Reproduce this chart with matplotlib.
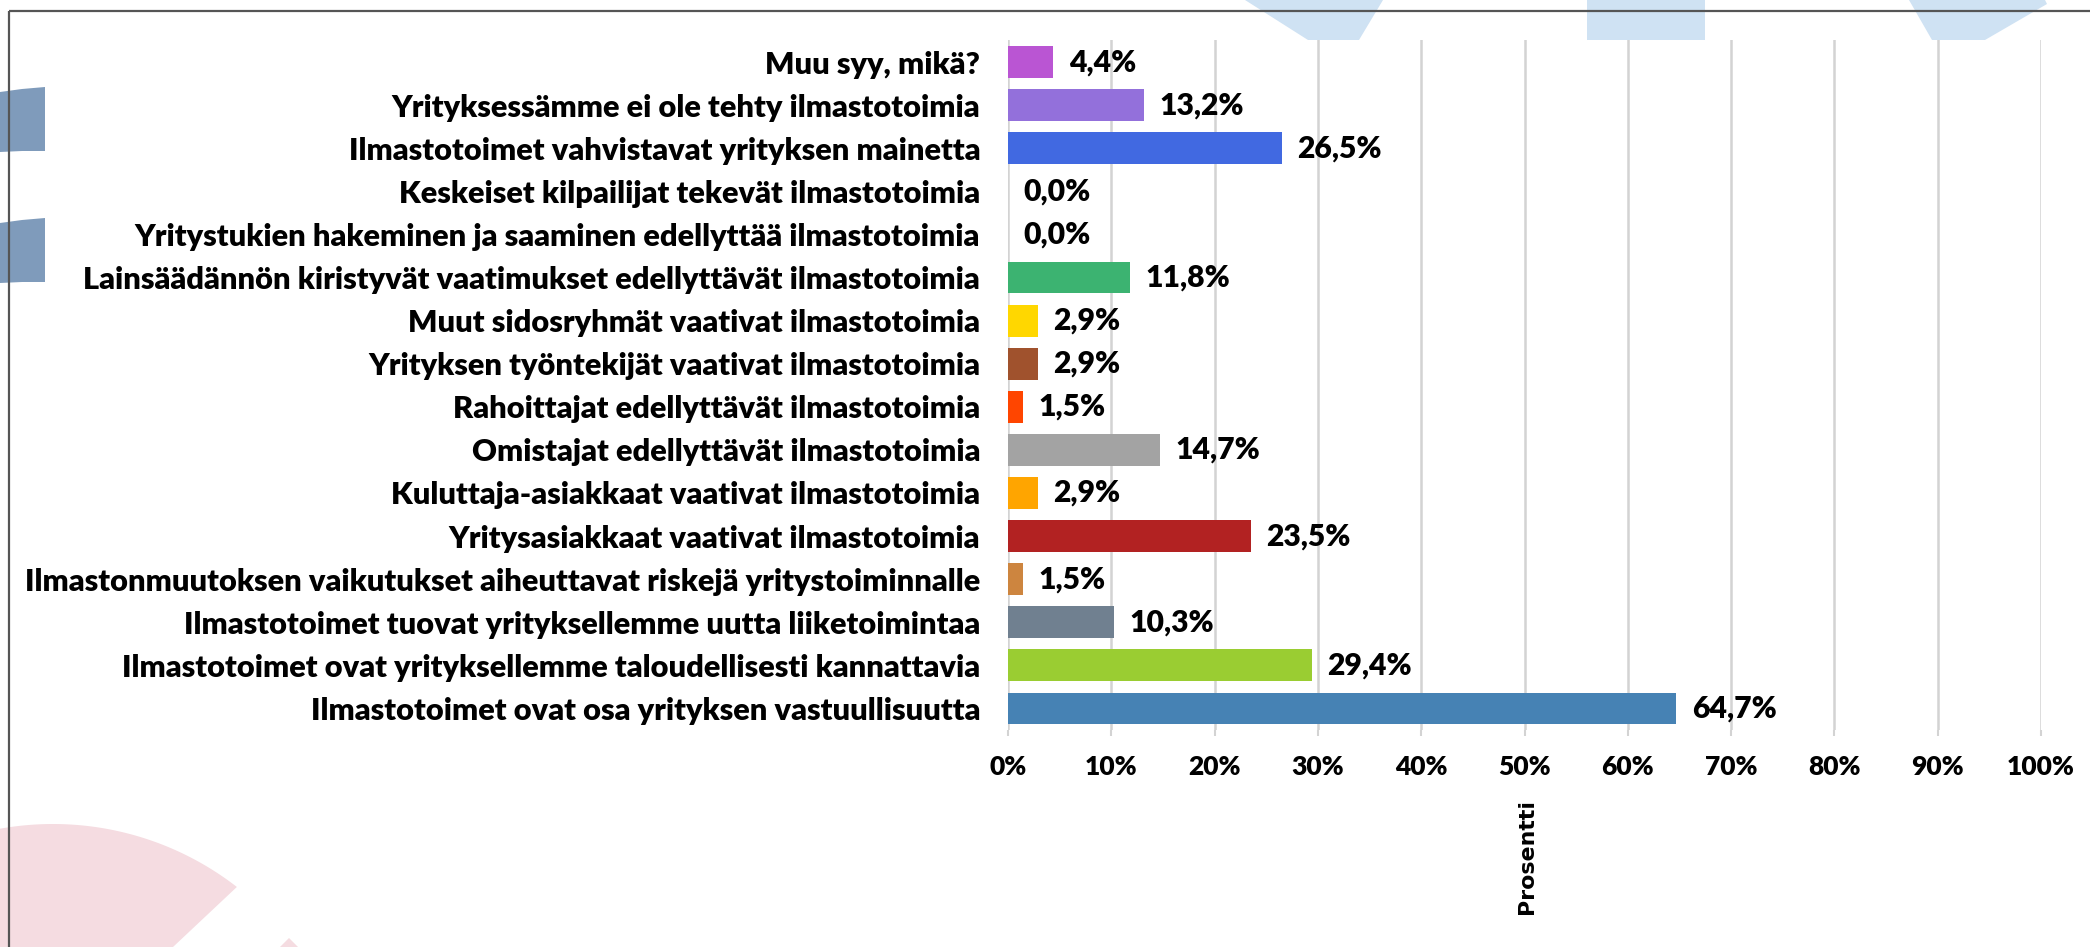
import matplotlib
matplotlib.use("Agg")
import matplotlib.pyplot as plt
from matplotlib.patches import Polygon
from matplotlib.font_manager import FontProperties
import numpy as np

# ---------------- data ----------------
categories = [
    "Muu syy, mikä?",
    "Yrityksessämme ei ole tehty ilmastotoimia",
    "Ilmastotoimet vahvistavat yrityksen mainetta",
    "Keskeiset kilpailijat tekevät ilmastotoimia",
    "Yritystukien hakeminen ja saaminen edellyttää ilmastotoimia",
    "Lainsäädännön kiristyvät vaatimukset edellyttävät ilmastotoimia",
    "Muut sidosryhmät vaativat ilmastotoimia",
    "Yrityksen työntekijät vaativat ilmastotoimia",
    "Rahoittajat edellyttävät ilmastotoimia",
    "Omistajat edellyttävät ilmastotoimia",
    "Kuluttaja-asiakkaat vaativat ilmastotoimia",
    "Yritysasiakkaat vaativat ilmastotoimia",
    "Ilmastonmuutoksen vaikutukset aiheuttavat riskejä yritystoiminnalle",
    "Ilmastotoimet tuovat yrityksellemme uutta liiketoimintaa",
    "Ilmastotoimet ovat yrityksellemme taloudellisesti kannattavia",
    "Ilmastotoimet ovat osa yrityksen vastuullisuutta",
]
values = [4.4, 13.2, 26.5, 0.0, 0.0, 11.8, 2.9, 2.9, 1.5, 14.7, 2.9, 23.5, 1.5, 10.3, 29.4, 64.7]
bar_colors = ["#BA55D3", "#9370DB", "#4169E1", "#4169E1", "#4169E1", "#3CB371",
              "#FFD700", "#A0522D", "#FF4500", "#A3A3A3", "#FFA500", "#B22222",
              "#CD853F", "#708090", "#9ACD32", "#4682B4"]
tick_values = [0, 10, 20, 30, 40, 50, 60, 70, 80, 90, 100]
tick_labels = [f"{t}%" for t in tick_values]
axis_title = "Prosentti"

# ---------------- figure ----------------
W, H = 2090, 947
fig = plt.figure(figsize=(W / 100, H / 100), dpi=100)
fig.patch.set_facecolor("white")
FONT = ["Lato", "DejaVu Sans"]
WEIGHT = "heavy"

# decorative background (pixel coordinates, y downwards)
bg = fig.add_axes([0, 0, 1, 1], zorder=0)
bg.set_xlim(0, W)
bg.set_ylim(H, 0)
bg.axis("off")

light_blue = "#CFE2F3"
bg.add_patch(Polygon([(1245, 0), (1383, 0), (1359, 40), (1308, 40)], closed=True,
                     fc=light_blue, ec="none", zorder=1))
bg.add_patch(Polygon([(1587, 0), (1705, 0), (1705, 40), (1587, 40)], closed=True,
                     fc=light_blue, ec="none", zorder=1))
bg.add_patch(Polygon([(1909, 0), (2045, 0), (2047, 4), (1985, 40), (1932, 40)], closed=True,
                     fc=light_blue, ec="none", zorder=1))

slate = "#7F9BBB"
bg.add_patch(Polygon([(0, 92), (22, 89), (45, 87), (45, 151), (22, 151), (0, 152)],
                     closed=True, fc=slate, ec="none", zorder=1))
bg.add_patch(Polygon([(0, 223), (22, 220), (45, 218), (45, 282), (22, 282), (0, 283)],
                     closed=True, fc=slate, ec="none", zorder=1))

pink = "#F5DCE1"
cx, cy, r = 53, 1124, 300
ang = np.radians(np.linspace(100.2, 52.2, 60))
arc = [(cx + r * np.cos(a), cy - r * np.sin(a)) for a in ang]
bg.add_patch(Polygon(arc + [(173, 947), (0, 947)], closed=True, fc=pink, ec="none", zorder=1))
bg.add_patch(Polygon([(289, 938), (280, 947), (298, 947)], closed=True, fc=pink, ec="none", zorder=1))

# frame lines
bg.plot([9, W], [11, 11], color="#555555", lw=1.6, zorder=3, solid_capstyle="butt")
bg.plot([9, 9], [11, H], color="#555555", lw=1.6, zorder=3, solid_capstyle="butt")

# ---------------- main axes ----------------
x0, x1, y0, y1 = 1008, 2041, 40.5, 730
ax = fig.add_axes([x0 / W, 1 - y1 / H, (x1 - x0) / W, (y1 - y0) / H], zorder=2)
ax.patch.set_alpha(0)

# font-size fitting
fig.canvas.draw()
rend = fig.canvas.get_renderer()

def fit(text, target, family, weight, start=18):
    t = fig.text(0, 0, text, fontsize=start, fontweight=weight, family=family)
    w = t.get_window_extent(rend).width
    t.remove()
    return start * target / w

cat_fs = fit(max(categories, key=len), 953, FONT, WEIGHT)
val_fs = fit("64,7%", 85, FONT, WEIGHT)
tick_fs = fit("100%", 68, FONT, WEIGHT)

pos = np.arange(len(categories))
ax.barh(pos, values, height=0.74, color=bar_colors, zorder=2)
ax.set_ylim(len(categories) - 0.5, -0.5)
ax.set_xlim(0, 100)

ax.set_yticks(pos)
ax.set_yticklabels(categories, fontsize=cat_fs, fontweight=WEIGHT, family=FONT)
ax.tick_params(axis="y", length=0, pad=20)

ax.set_xticks(tick_values)
ax.set_xticklabels(tick_labels, fontsize=tick_fs, fontweight=WEIGHT, family=FONT)
ax.tick_params(axis="x", length=4, width=1.5, color="#D3D3D3", pad=14)

ax.grid(axis="x", color="#D3D3D3", lw=1.8, zorder=0)
ax.set_axisbelow(True)
for s in ax.spines.values():
    s.set_visible(False)

for i, v in enumerate(values):
    ax.annotate(f"{v:.1f}%".replace(".", ","), xy=(v, i), xytext=(11, 0),
                textcoords="offset points", ha="left", va="center",
                fontsize=val_fs, fontweight=WEIGHT, family=FONT, color="black")

# axis title (rotated), sized to the reference length of ~115 px
title_prop = FontProperties(family="DejaVu Sans", weight="bold", size=16)
ttl = fig.text(1527 / W, 1 - 856 / H, axis_title, rotation=90, ha="center", va="center",
               fontproperties=title_prop)
fig.canvas.draw()
h = ttl.get_window_extent(fig.canvas.get_renderer()).height
title_prop.set_size(16 * 115 / h)
ttl.set_fontproperties(title_prop)

fig.savefig("out.png", dpi=100, facecolor="white")
